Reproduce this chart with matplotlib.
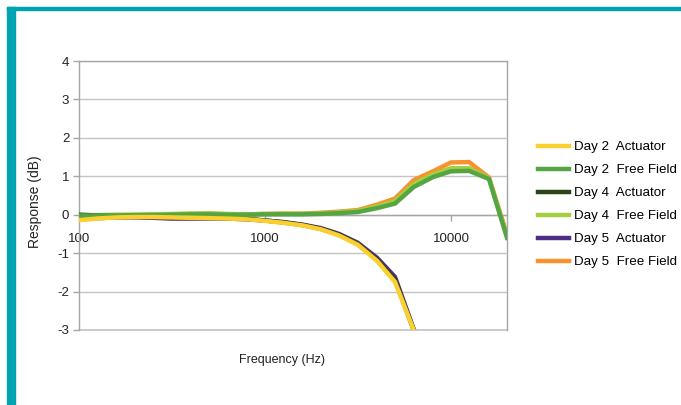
import matplotlib
matplotlib.use("Agg")
import matplotlib.pyplot as plt
from matplotlib.patches import Rectangle

plt.rcParams['font.family'] = ['Liberation Sans', 'DejaVu Sans']

freqs = [100, 125, 160, 200, 250, 315, 400, 500, 630, 800, 1000, 1250, 1600,
         2000, 2500, 3150, 4000, 5000, 6300, 8000, 10000, 12500, 16000, 20000]

# Actuator curves (measured up to 6300 Hz)
day2_act = [-0.14, -0.10, -0.07, -0.06, -0.06, -0.07, -0.08, -0.09, -0.10, -0.12,
            -0.16, -0.21, -0.28, -0.38, -0.54, -0.78, -1.20, -1.75, -3.00]
day4_act = [0.00, -0.02, -0.04, -0.05, -0.05, -0.06, -0.07, -0.08, -0.09, -0.11,
            -0.15, -0.20, -0.27, -0.37, -0.52, -0.76, -1.17, -1.70, -3.00]
day5_act = [-0.12, -0.09, -0.07, -0.07, -0.08, -0.10, -0.10, -0.10, -0.10, -0.12,
            -0.15, -0.19, -0.26, -0.35, -0.50, -0.73, -1.12, -1.62, -2.98]

# Free field curves
day2_ff = [-0.02, -0.02, -0.02, -0.01, -0.01, 0.00, 0.01, 0.01, 0.00, 0.00,
           0.01, 0.01, 0.01, 0.02, 0.04, 0.07, 0.17, 0.29, 0.72, 0.98,
           1.13, 1.14, 0.93, -0.60]
day4_ff = [-0.01, -0.01, 0.00, 0.00, 0.01, 0.02, 0.03, 0.04, 0.02, 0.01,
           0.02, 0.02, 0.02, 0.03, 0.06, 0.10, 0.21, 0.35, 0.80, 1.05,
           1.21, 1.21, 0.95, -0.57]
day5_ff = [-0.02, -0.02, -0.01, -0.01, 0.00, 0.01, 0.02, 0.02, 0.01, 0.01,
           0.02, 0.03, 0.03, 0.05, 0.08, 0.12, 0.26, 0.42, 0.90, 1.13,
           1.36, 1.37, 0.97, -0.52]

labels = ["Day 2  Actuator", "Day 2  Free Field", "Day 4  Actuator",
          "Day 4  Free Field", "Day 5  Actuator", "Day 5  Free Field"]
colors = ["#FBD02E", "#55A545", "#2A4418", "#A3D03C", "#4E2D86", "#F7922F"]
series = [day2_act, day2_ff, day4_act, day4_ff, day5_act, day5_ff]
yticks = [-3, -2, -1, 0, 1, 2, 3, 4]

fig = plt.figure(figsize=(6.81, 4.05), dpi=100)
fig.patch.set_facecolor("white")

# teal frame
teal = "#00A3B1"
fig.patches.append(Rectangle((7/681, 0), 8/681, (405-7)/405,
                             transform=fig.transFigure, color=teal, zorder=0))
fig.patches.append(Rectangle((7/681, 1-10/405), 1-7/681, 3/405,
                             transform=fig.transFigure, color=teal, zorder=0))

ax = fig.add_axes([79/681, 1-330/405, (507-79)/681, (330-61)/405])
handles = []
n = len(series)
for i, (vals, c, lab) in enumerate(zip(series, colors, labels)):
    h, = ax.plot(freqs[:len(vals)], vals, color=c, lw=3.2, label=lab,
                 zorder=10 + (n - i), solid_joinstyle='miter')
    handles.append(h)

ax.set_xscale('log')
ax.set_xlim(100, 20000)
ax.set_ylim(-3, 4)
ax.set_yticks(yticks)
ax.set_yticklabels([str(t) for t in yticks])
ax.set_xticks([100, 1000, 10000])
ax.set_xticklabels(["100", "1000", "10000"])
ax.xaxis.set_minor_locator(matplotlib.ticker.NullLocator())
ax.grid(axis='y', color='#C4C4C4', lw=1.0, zorder=0)
ax.set_axisbelow(True)
ax.axhline(yticks[0], color='#C4C4C4', lw=1.2, zorder=1, clip_on=False)

gray = '#A6A6A6'
ax.spines['bottom'].set_position(('data', 0))
for s in ['bottom', 'left', 'right', 'top']:
    ax.spines[s].set_color(gray)
    ax.spines[s].set_linewidth(1.0)
ax.tick_params(axis='both', colors=gray, labelcolor='#222222', labelsize=9.5,
               length=4, width=1.0, direction='out')
ax.tick_params(axis='x', pad=9)
ax.tick_params(axis='y', pad=3)

fig.text(35/681, 1-202/405, "Response (dB)", rotation=90, ha='center',
         va='center', fontsize=10, color='#222222')
fig.text(282/681, 1-360/405, "Frequency (Hz)", ha='center', va='center',
         fontsize=9, color='#222222')

fig.legend(handles=handles, labels=labels, loc='center left',
           bbox_to_anchor=(533/681, 1-204.5/405), frameon=False,
           fontsize=9.6, handlelength=2.3, handletextpad=0.4,
           labelspacing=0.8, borderaxespad=0)

fig.savefig("out.png", dpi=100, facecolor='white')
